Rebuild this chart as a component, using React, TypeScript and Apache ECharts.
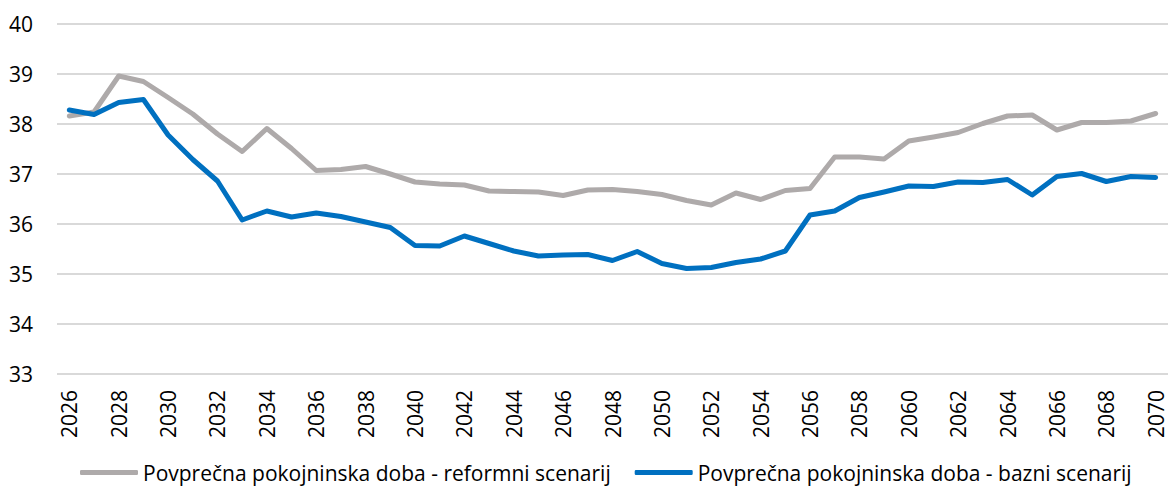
import React, { useEffect, useRef } from "react";
import * as echarts from "echarts";

const years: string[] = [
  "2026", "2027", "2028", "2029", "2030", "2031", "2032", "2033", "2034", "2035",
  "2036", "2037", "2038", "2039", "2040", "2041", "2042", "2043", "2044", "2045",
  "2046", "2047", "2048", "2049", "2050", "2051", "2052", "2053", "2054", "2055",
  "2056", "2057", "2058", "2059", "2060", "2061", "2062", "2063", "2064", "2065",
  "2066", "2067", "2068", "2069", "2070",
];

const reformName = "Povprečna pokojninska doba - reformni scenarij";
const baseName = "Povprečna pokojninska doba - bazni scenarij";

const reformValues: number[] = [
  38.16, 38.24, 38.96, 38.85, 38.53, 38.2, 37.8, 37.45, 37.91, 37.51,
  37.07, 37.09, 37.15, 37.0, 36.84, 36.8, 36.78, 36.66, 36.65, 36.64,
  36.57, 36.68, 36.69, 36.65, 36.59, 36.47, 36.38, 36.62, 36.49, 36.67,
  36.71, 37.34, 37.34, 37.3, 37.66, 37.74, 37.83, 38.01, 38.16, 38.18,
  37.88, 38.03, 38.03, 38.06, 38.21,
];

const baseValues: number[] = [
  38.28, 38.19, 38.43, 38.49, 37.78, 37.29, 36.86, 36.08, 36.26, 36.14,
  36.22, 36.15, 36.04, 35.93, 35.57, 35.56, 35.76, 35.61, 35.46, 35.36,
  35.38, 35.39, 35.27, 35.45, 35.21, 35.11, 35.13, 35.23, 35.3, 35.46,
  36.18, 36.26, 36.53, 36.64, 36.76, 36.75, 36.84, 36.83, 36.89, 36.58,
  36.95, 37.01, 36.85, 36.95, 36.93,
];

const FONT = "Open Sans";

export default function App() {
  const ref = useRef<HTMLDivElement>(null);

  useEffect(() => {
    if (!ref.current) return;
    const chart = echarts.init(ref.current, undefined, { renderer: "svg" });
    chart.setOption({
      animation: false,
      textStyle: { fontFamily: FONT },
      grid: { left: 57, right: -7, top: 24, bottom: 114, containLabel: false },
      legend: {
        left: 75,
        top: 457,
        icon: "roundRect",
        itemWidth: 58,
        itemHeight: 5,
        itemGap: 24,
        textStyle: { fontFamily: FONT, fontSize: 21, color: "#000" },
        data: [reformName, baseName],
      },
      xAxis: {
        type: "category",
        data: years,
        boundaryGap: true,
        axisLine: { show: false },
        axisTick: { show: false },
        axisLabel: {
          rotate: 90,
          interval: 1,
          margin: 16,
          fontFamily: FONT,
          fontSize: 21,
          color: "#000",
        },
      },
      yAxis: {
        type: "value",
        min: 33,
        max: 40,
        interval: 1,
        axisLine: { show: false },
        axisTick: { show: false },
        axisLabel: { margin: 24, fontFamily: FONT, fontSize: 21, color: "#000" },
        splitLine: { lineStyle: { color: "#D9D9D9", width: 2 } },
      },
      series: [
        {
          name: reformName,
          type: "line",
          data: reformValues,
          showSymbol: false,
          symbol: "none",
          itemStyle: { color: "#AEAAAA" },
          lineStyle: { color: "#AEAAAA", width: 5, cap: "round", join: "round" },
        },
        {
          name: baseName,
          type: "line",
          data: baseValues,
          showSymbol: false,
          symbol: "none",
          itemStyle: { color: "#0070C0" },
          lineStyle: { color: "#0070C0", width: 5, cap: "round", join: "round" },
        },
      ],
    });
    return () => chart.dispose();
  }, []);

  return (
    <div
      ref={ref}
      style={{ position: "fixed", left: 0, top: 0, width: 1168, height: 488, background: "#fff" }}
    />
  );
}
